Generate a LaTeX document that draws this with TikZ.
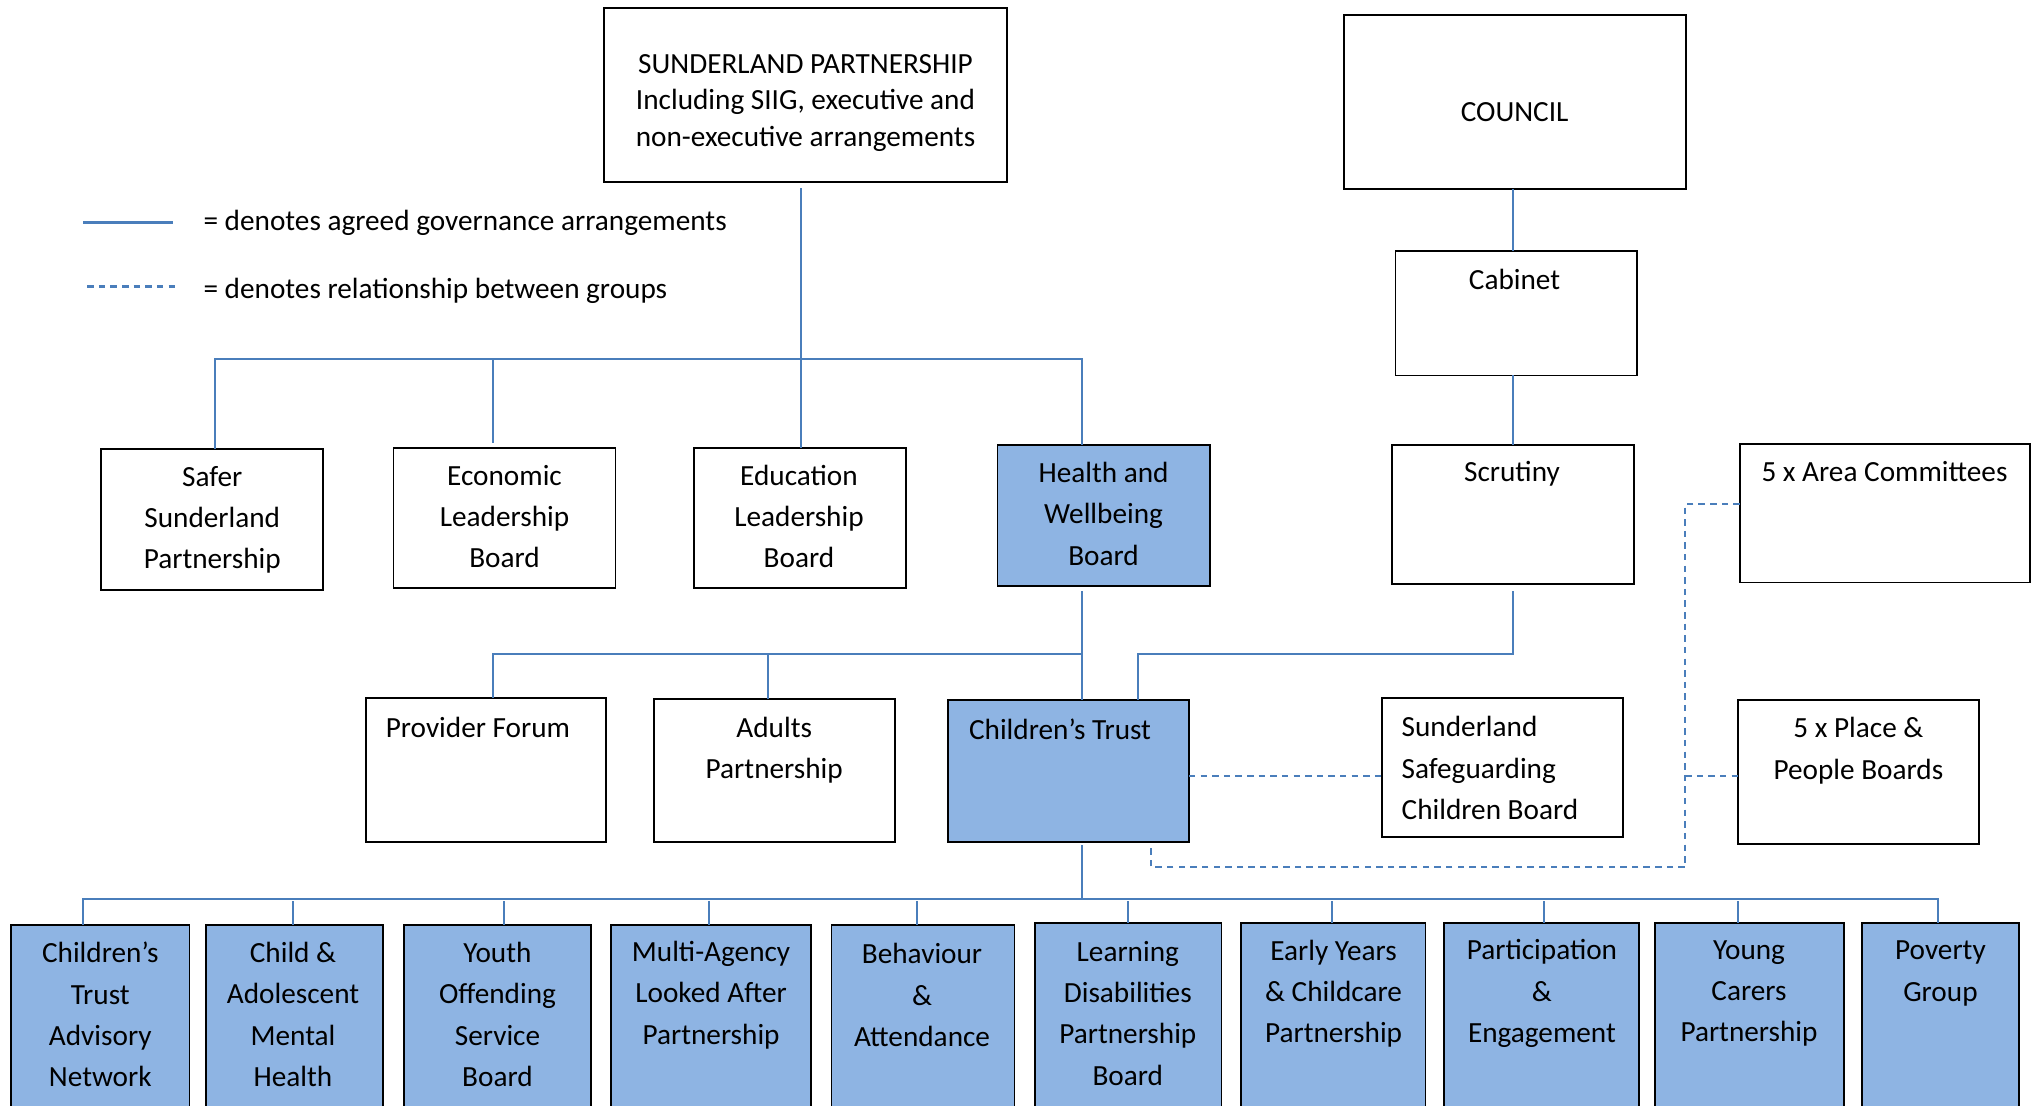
\documentclass[tikz,border=0pt]{standalone}
\usepackage{fontspec}
\setmainfont{Carlito}
\usetikzlibrary{calc}
\definecolor{lineblue}{HTML}{4A7EBB}
\definecolor{fillblue}{HTML}{8EB4E3}
\newcommand\mkbox[6]{\node[#6,minimum width={(#4-#2)*0.65pt},minimum height={(#5-#3)*0.65pt}] (#1) at ({(#2+#4)/2},{(#3+#5)/2}) {};}
\begin{document}
\begin{tikzpicture}[x=0.65pt,y=-0.65pt,
 box/.style={draw=black,line width=0.9pt,inner sep=0pt,outer sep=0pt,fill=white},
 bbox/.style={box,fill=fillblue},
 conn/.style={draw=lineblue,line width=1pt},
 rel/.style={draw=lineblue,line width=1.1pt,dash pattern=on 3.2pt off 2.6pt},
 txt/.style={align=center,inner sep=0pt,font=\fontsize{14.6}{20.6}\selectfont},
 ltxt/.style={align=left,inner sep=0pt,font=\fontsize{14.6}{20.6}\selectfont},
]
\useasboundingbox (0,0) rectangle (1568,849);
\clip (0,0) rectangle (1568,849);
% boxes
\mkbox{sp}{463.6}{6}{773.4}{140}{box}
\mkbox{council}{1032}{11.3}{1294.8}{145}{box}
\mkbox{cabinet}{1071.6}{192.6}{1256.8}{288.3}{box}
\mkbox{scrutiny}{1068.6}{341.9}{1254.7}{448.5}{box}
\mkbox{area}{1335.9}{340.7}{1559}{447.3}{box}
\mkbox{safer}{77.4}{345}{248.3}{453}{box}
\mkbox{econ}{302.2}{343.7}{472.6}{451.5}{box}
\mkbox{edu}{532.6}{343.7}{695.4}{451.5}{box}
\mkbox{health}{765.9}{342}{928.9}{450}{bbox}
\mkbox{pf}{280.8}{536}{465.6}{646.6}{box}
\mkbox{adults}{502}{537}{687}{646.5}{box}
\mkbox{ct}{728}{537.5}{913}{646.6}{bbox}
\mkbox{sscb}{1061}{535.7}{1246}{643}{box}
\mkbox{place}{1334.5}{537.5}{1519.7}{648}{box}
\mkbox{ctan}{8.5}{710.3}{145.5}{880}{bbox}
\mkbox{camh}{158}{710.3}{294}{880}{bbox}
\mkbox{yosb}{310}{710.3}{454}{880}{bbox}
\mkbox{malap}{469}{710.3}{622.5}{880}{bbox}
\mkbox{ba}{638.5}{710.3}{779}{880}{bbox}
\mkbox{ldpb}{795}{708.5}{938}{880}{bbox}
\mkbox{eycp}{953}{708.5}{1094.6}{880}{bbox}
\mkbox{pe}{1108.6}{708.5}{1258.8}{880}{bbox}
\mkbox{ycp}{1271}{708.5}{1416}{880}{bbox}
\mkbox{pov}{1429.5}{708.5}{1550.6}{880}{bbox}
% texts
\node[txt,font=\fontsize{14.6}{18.2}\selectfont] (tsp) at (618.5,79) {SUNDERLAND PARTNERSHIP\\Including SIIG, executive and\\non-executive arrangements};
\node[txt] (tcouncil) at (1163,86) {COUNCIL};
\node[txt] (tcabinet) at (1163,214.5) {Cabinet};
\node[txt] (tscrutiny) at (1161,364) {Scrutiny};
\node[txt] (tarea) at (1447,362) {5 x Area Committees};
\node[txt] (tsafer) at (163,399) {Safer\\Sunderland\\Partnership};
\node[txt] (tecon) at (387.4,396.5) {Economic\\Leadership\\Board};
\node[txt] (tedu) at (613.5,396.5) {Education\\Leadership\\Board};
\node[txt] (thealth) at (847.4,394.5) {Health and\\Wellbeing\\Board};
\node[txt] (tpf) at (367,558.5) {Provider Forum};
\node[txt] (tadults) at (594.5,576) {Adults\\Partnership};
\node[txt] (tct) at (814,560) {Children’s Trust};
\node[ltxt,anchor=west] (tsscb) at (1076,589.7) {Sunderland\\Safeguarding\\Children Board};
\node[txt] (tplace) at (1427,576.5) {5 x Place \&\\People Boards};
\node[txt] (tctan) at (77,779) {Children’s\\Trust\\Advisory\\Network};
\node[txt] (tcamh) at (225,779) {Child \&\\Adolescent\\Mental\\Health};
\node[txt] (tyosb) at (382,779) {Youth\\Offending\\Service\\Board};
\node[txt] (tmalap) at (546,764) {Multi-Agency\\Looked After\\Partnership};
\node[txt] (tba) at (708,764) {Behaviour\\\&\\Attendance};
\node[txt] (tldpb) at (866,778) {Learning\\Disabilities\\Partnership\\Board};
\node[txt] (teycp) at (1024,763) {Early Years\\\& Childcare\\Partnership};
\node[txt] (tpe) at (1184,763) {Participation\\\&\\Engagement};
\node[txt] (tycp) at (1343,763) {Young\\Carers\\Partnership};
\node[txt] (tpov) at (1490,747.5) {Poverty\\Group};
% legend
\coordinate (la1) at (64,171); \coordinate (la2) at (133,171);
\coordinate (lb1) at (67,220); \coordinate (lb2) at (137,220);
\draw[conn,line width=1.2pt] (la1) -- (la2);
\draw[rel] (lb1) -- (lb2);
\node[txt,anchor=west] (leg1) at (156,171.5) {= denotes agreed governance arrangements};
\node[txt,anchor=west] (leg2) at (156,223.5) {= denotes relationship between groups};
% helper coordinates
\coordinate (bus1) at (0,276);
\coordinate (bus2) at (0,502);
\coordinate (bus3) at (0,690);
\coordinate (xsafer) at (165,0);
\coordinate (xecon) at (378.8,0);
\coordinate (xh) at (831,0);
\coordinate (xs) at (1162,0);
\coordinate (xpf) at (378.7,0);
\coordinate (xad) at (589.5,0);
\coordinate (xct2) at (873.5,0);
\coordinate (x64) at (64,0);
\coordinate (x1488) at (1488,0);
% solid connectors
\draw[conn] ($(edu.north |- sp.south)+(1,4.7)$) -- ($(edu.north)+(1,0)$);
\draw[conn] (safer.north -| xsafer) -- (xsafer |- bus1) -- (xh |- bus1) -- (health.north -| xh);
\draw[conn] (xecon |- bus1) -- ($(econ.north -| xecon)+(0,-3.7)$);
\draw[conn] (council.south -| xs) -- (cabinet.north -| xs);
\draw[conn] (cabinet.south -| xs) -- (scrutiny.north -| xs);
\draw[conn] ($(health.south -| xh)+(0,4)$) -- (ct.north -| xh);
\draw[conn] (pf.north -| xpf) -- (xpf |- bus2) -- (xh |- bus2);
\draw[conn] (xad |- bus2) -- (adults.north -| xad);
\draw[conn] ($(scrutiny.south -| xs)+(0,5.5)$) -- (xs |- bus2) -- (xct2 |- bus2) -- (ct.north -| xct2);
\draw[conn] ($(ct.south -| xh)+(0,2.5)$) -- (xh |- bus3);
\draw[conn] (ctan.north -| x64) -- (x64 |- bus3) -- (x1488 |- bus3) -- (pov.north -| x1488);
\foreach \n/\x in {camh/225.3,yosb/386.7,malap/544.6,ba/704.5,ldpb/865.8,eycp/1022.5,pe/1185.2,ycp/1334.3}{
  \coordinate (v) at (\x,0);
  \draw[conn] ($(v |- bus3)+(0,2)$) -- (\n.north -| v);
}
% dashed relationships
\coordinate (dx) at (1294,0);
\coordinate (dx2) at (884,0);
\coordinate (dy1) at (0,387);
\coordinate (dy2) at (0,596);
\coordinate (dy3) at (0,666);
\draw[rel] (area.west |- dy1) -- (dx |- dy1) -- (dx |- dy3) -- (dx2 |- dy3) -- ($(ct.south -| dx2)+(0,3.5)$);
\draw[rel] (dx |- dy2) -- (place.west |- dy2);
\draw[rel] (ct.east |- dy2) -- (sscb.west |- dy2);
\end{tikzpicture}
\end{document}
